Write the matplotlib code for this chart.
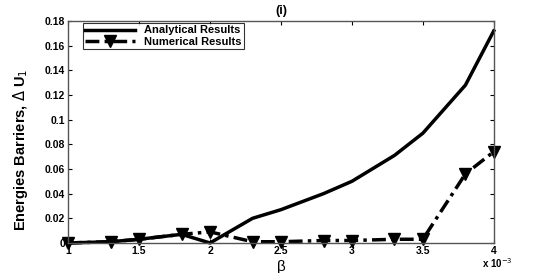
import matplotlib
matplotlib.use('Agg')
import matplotlib.pyplot as plt
import numpy as np

plt.rcParams['font.family'] = ['Liberation Sans', 'DejaVu Sans']

beta = [1.0, 1.3, 1.5, 1.8, 2.0, 2.3, 2.5, 2.8, 3.0, 3.3, 3.5, 3.8, 4.0]  # x 10^-3
analytical = [0.0, 0.001, 0.003, 0.007, 0.0, 0.020, 0.027, 0.040, 0.050, 0.071, 0.089, 0.128, 0.172]
numerical = [0.0, 0.001, 0.003, 0.007, 0.009, 0.001, 0.001, 0.002, 0.002, 0.003, 0.003, 0.056, 0.074]

fig = plt.figure(figsize=(5.45, 2.73), dpi=100)
ax = fig.add_axes([0.125, 0.110, 0.781, 0.813])

ax.plot(beta, analytical, color='black', lw=2.5, label='Analytical Results', clip_on=False)
ax.plot(beta, numerical, color='black', lw=2.5, ls=(0, (4, 1.5, 1, 1.5)), marker='v', markersize=8,
        label='Numerical Results', clip_on=False)

ax.set_xlim(1, 4)
ax.set_ylim(0, 0.18)
ax.set_xticks([1, 1.5, 2, 2.5, 3, 3.5, 4])
ax.set_xticklabels(['1', '1.5', '2', '2.5', '3', '3.5', '4'])
ax.set_yticks(np.arange(0, 0.181, 0.02))
ax.set_yticklabels(['0', '0.02', '0.04', '0.06', '0.08', '0.1', '0.12', '0.14', '0.16', '0.18'])
ax.tick_params(direction='in', top=True, right=True, length=3, labelsize=7.5, pad=2)
for lbl in ax.get_xticklabels() + ax.get_yticklabels():
    lbl.set_fontweight('bold')
for s in ax.spines.values():
    s.set_color('#555555')
    s.set_linewidth(1.0)

ax.set_xlabel('β', fontsize=11)
ax.xaxis.set_label_coords(0.5, -0.075)
ax.set_ylabel('Energies Barriers, $\\Delta$ U$_1$', fontsize=10.5, fontweight='bold')
ax.yaxis.set_label_coords(-0.09, 0.42)
ax.set_title('(i)', fontsize=9, fontweight='bold', pad=5)
fig.text(0.885, 0.02, 'x 10$^{-3}$', fontsize=7, fontweight='bold')

leg = ax.legend(loc='upper left', bbox_to_anchor=(0.03, 1.0), prop={'weight': 'bold', 'size': 8},
                fancybox=False, edgecolor='black', handlelength=4.5, borderpad=0.2,
                labelspacing=0.1, borderaxespad=0.2)
leg.get_frame().set_linewidth(0.8)

fig.savefig('out.png', dpi=100)
